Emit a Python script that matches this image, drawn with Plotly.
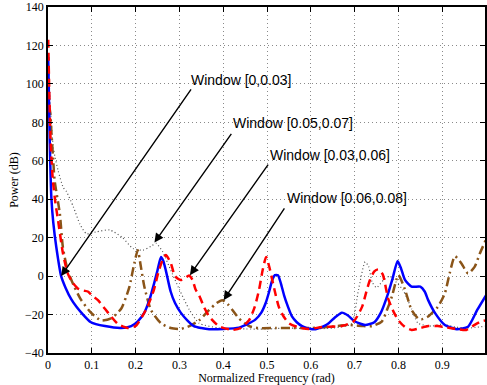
import plotly.graph_objects as go

# ---- data ----
blue_x = [0.0005, 0.002, 0.004, 0.0076, 0.012, 0.019, 0.03, 0.04, 0.053, 0.065, 0.076, 0.098, 0.13, 0.167, 0.19,
          0.205, 0.22, 0.232, 0.242, 0.25, 0.258, 0.263, 0.269, 0.28, 0.29, 0.303, 0.318, 0.333, 0.35, 0.368,
          0.4, 0.436, 0.455, 0.474, 0.487, 0.497, 0.505, 0.512, 0.518, 0.525, 0.532, 0.539, 0.548, 0.557, 0.568,
          0.58, 0.6, 0.611, 0.63, 0.641, 0.655, 0.671, 0.685, 0.7, 0.724, 0.745, 0.76, 0.775, 0.787, 0.798,
          0.806, 0.815, 0.83, 0.85, 0.86, 0.868, 0.883, 0.906, 0.933, 0.959, 0.98, 1.0]
blue_y = [114, 95, 70, 41, 28, 15, 0, -6, -12, -16, -19, -24, -26, -27, -26,
          -23.5, -19, -12, -4, 3, 10, 8, 3, -8, -14, -19, -23, -26, -27, -27.6,
          -27.5, -26.8, -25, -22.5, -19, -14, -8, -2, 0.5, 0.5, -4, -10, -16, -21, -24,
          -26, -27.5, -27.6, -26, -24.5, -21.5, -19, -20.5, -23.5, -25.4, -24, -19, -10, -1, 7.8,
          4, -2, -5.5, -5.5, -8, -12.5, -19, -25.4, -27.6, -26.3, -17.6, -10]

red_x = [0.0005, 0.003, 0.006, 0.011, 0.017, 0.023, 0.034, 0.045, 0.055, 0.068, 0.08, 0.091, 0.1, 0.114, 0.13,
         0.144, 0.16, 0.182, 0.2, 0.215, 0.227, 0.242, 0.252, 0.261, 0.269, 0.28, 0.29, 0.303, 0.313, 0.322,
         0.33, 0.337, 0.345, 0.356, 0.368, 0.39, 0.421, 0.44, 0.459, 0.472, 0.482, 0.49, 0.498, 0.505, 0.512,
         0.52, 0.527, 0.538, 0.55, 0.57, 0.595, 0.626, 0.67, 0.698, 0.717, 0.727, 0.735, 0.745, 0.754, 0.764,
         0.777, 0.79, 0.8, 0.815, 0.83, 0.85, 0.868, 0.89, 0.906, 0.936, 0.955, 0.974, 0.99, 1.0]
red_y = [123, 95, 70, 50, 38, 29, 12, 1.4, -3, -6.4, -7.5, -8, -10, -12.5, -17,
         -21, -25, -27, -26, -21, -16, -7, 2, 8, 11, 7, 0, -2, -1, 0.3,
         -2, -7, -10, -16, -21, -26, -28, -27, -23, -16, -7, 3, 10, 5, -2,
         -10, -16, -21, -24.5, -26.5, -27.5, -26.5, -26, -23.5, -16, -8, -2, 2.5, 3.5, 1,
         -12, -19, -23, -26.5, -28, -27, -26, -26, -26.6, -27.6, -28, -25.4, -23.5, -23]

brown_x = [0.0005, 0.0045, 0.008, 0.012, 0.015, 0.027, 0.034, 0.045, 0.06, 0.076, 0.098, 0.121, 0.144, 0.167,
           0.178, 0.186, 0.197, 0.205, 0.212, 0.22, 0.235, 0.258, 0.28, 0.303, 0.323, 0.345, 0.368, 0.385,
           0.398, 0.41, 0.421, 0.436, 0.459, 0.48, 0.52, 0.56, 0.6, 0.64, 0.686, 0.72, 0.74, 0.762, 0.775,
           0.785, 0.8, 0.815, 0.83, 0.845, 0.853, 0.868, 0.89, 0.906, 0.917, 0.929, 0.944, 0.959, 0.974,
           0.986, 1.0]
brown_y = [88, 86, 74, 60, 50, 32.5, 15, 3, -5.5, -12.5, -19, -23, -22, -17,
           -11, -5.5, 6.6, 13.5, 5, -5.5, -17.6, -24.5, -27, -27.5, -26, -23, -17.6, -14,
           -12.5, -14.5, -17.6, -22, -26, -27, -27, -27, -27, -26.5, -25.4, -26, -26, -23.7, -17,
           -10.7, 0.5, -7, -17.6, -22, -22.5, -21, -16, -9, 1.4, 10.4, 6.6, 1.4, 4.8,
           11.8, 19]

gray_x = [0.002, 0.006, 0.012, 0.016, 0.023, 0.035, 0.042, 0.058, 0.073, 0.088, 0.11, 0.141, 0.17, 0.194,
          0.217, 0.235, 0.247, 0.262, 0.277, 0.3, 0.323, 0.345, 0.39, 0.45, 0.5, 0.55, 0.6, 0.65, 0.68,
          0.694, 0.709, 0.724, 0.732, 0.74, 0.75, 0.766, 0.78, 0.79, 0.81, 0.83, 0.845, 0.876, 0.9, 0.93,
          0.96, 1.0]
gray_y = [105, 85, 67, 62, 55, 46, 44, 36, 27, 22, 23, 24, 20, 14.4,
          13.5, 15.5, 17, 12.6, 4.8, -7, -17.6, -24.5, -27, -27.5, -27.5, -27, -27.5, -27, -26,
          -24.5, -7, 7.4, 5, -3, -6, -2, 0, -2, -7, -17, -24.5, -26, -25, -26.5,
          -27, -26]

labels = ["Window [0,0.03]", "Window [0.05,0.07]", "Window [0.03,0.06]", "Window [0.06,0.08]"]
label_x = [0.323, 0.417, 0.502, 0.542]
label_y = [102.2, 79.5, 62.8, 40.8]
arrow_tail_x = [0.329, 0.421, 0.505, 0.542]
arrow_tail_y = [97.9, 74.8, 58.8, 36.0]
arrow_tip_x = [0.03, 0.243, 0.324, 0.401]
arrow_tip_y = [0.0, 17.5, 0.5, -12.5]

x_ticks = [0, 0.1, 0.2, 0.3, 0.4, 0.5, 0.6, 0.7, 0.8, 0.9, 1.0]
x_tick_text = ["0", "0.1", "0.2", "0.3", "0.4", "0.5", "0.6", "0.7", "0.8", "0.9", "1"]
y_ticks = [-40, -20, 0, 20, 40, 60, 80, 100, 120, 140]
y_tick_text = ["\u221240", "\u221220", "0", "20", "40", "60", "80", "100", "120", "140"]

fig = go.Figure()
fig.add_trace(go.Scatter(x=gray_x, y=gray_y, mode="lines",
                         line=dict(color="#505050", width=1.2, dash="1px,2.5px", shape="spline", smoothing=0.6)))
fig.add_trace(go.Scatter(x=brown_x, y=brown_y, mode="lines",
                         line=dict(color="#8a5418", width=2.5, dash="9px,4px,2px,4px", shape="spline", smoothing=0.6)))
fig.add_trace(go.Scatter(x=blue_x, y=blue_y, mode="lines",
                         line=dict(color="#0000ff", width=2.5, shape="spline", smoothing=0.6)))
fig.add_trace(go.Scatter(x=red_x, y=red_y, mode="lines",
                         line=dict(color="#ff0000", width=2.5, dash="8px,5px", shape="spline", smoothing=0.6)))

for i in range(len(labels)):
    fig.add_annotation(x=arrow_tip_x[i], y=arrow_tip_y[i], ax=arrow_tail_x[i], ay=arrow_tail_y[i],
                       xref="x", yref="y", axref="x", ayref="y", text="", showarrow=True,
                       arrowhead=2, arrowsize=1.3, arrowwidth=1.4, arrowcolor="black", standoff=0)
    fig.add_annotation(x=label_x[i], y=label_y[i], xref="x", yref="y", text=labels[i], showarrow=False,
                       xanchor="left", yanchor="middle",
                       font=dict(family="Liberation Sans", size=14, color="black"))

axis_common = dict(showline=True, linecolor="black", linewidth=1.5, mirror="ticks",
                   ticks="inside", ticklen=5, tickcolor="black", tickwidth=1,
                   showgrid=True, gridcolor="#8a8a8a", gridwidth=1, griddash="1px,3px", zeroline=False,
                   ticklabeloverflow="allow",
                   tickfont=dict(family="Liberation Serif", size=12, color="black"))

fig.update_xaxes(range=[0, 0.99773], tickvals=x_ticks, ticktext=x_tick_text,
                 title=dict(text="Normalized Frequency (rad)", standoff=2,
                            font=dict(family="Liberation Serif", size=12, color="black")),
                 **axis_common)
fig.update_yaxes(range=[-40, 140], tickvals=y_ticks, ticktext=y_tick_text,
                 title=dict(text="Power (dB)", standoff=4,
                            font=dict(family="Liberation Serif", size=12, color="black")),
                 **axis_common)

fig.update_layout(width=487, height=385, autosize=False, showlegend=False,
                  margin=dict(l=48, r=0, t=6, b=32),
                  plot_bgcolor="white", paper_bgcolor="white")

fig.write_html("out.html", config={"displayModeBar": False})
